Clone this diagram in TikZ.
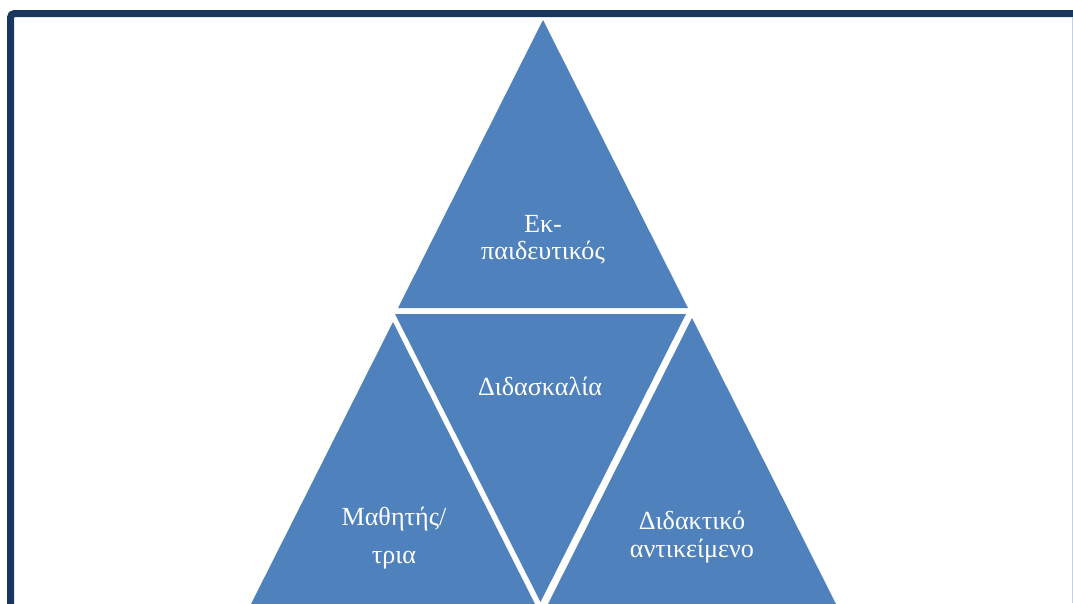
\documentclass[tikz,border=0pt]{standalone}
\usepackage{fontspec}
\setmainfont{Liberation Serif}
\definecolor{pyrblue}{HTML}{4F81BD}
\definecolor{framenavy}{HTML}{17375E}
\definecolor{edgegray}{HTML}{C5CFDD}

\begin{document}
\begin{tikzpicture}[x=0.75pt, y=-0.75pt, every node/.style={font=\fontsize{19.6}{20.5}\selectfont, text=white, align=center}]
\tikzset{tri/.style={fill=pyrblue}}
\useasboundingbox (0,0) rectangle (1073,603);
\clip (0,0) rectangle (1073,603);
% --- frame ---
\draw[framenavy, line width=5.25pt, rounded corners=3pt] (10.5,620) -- (10.5,13.5) -- (1090,13.5);
\draw[edgegray, line width=0.75pt] (1072,17) -- (1072,603);
% --- top triangle ---
\coordinate (tA) at (543,20);
\fill[tri] (tA) -- (688,308) -- (398,308) -- cycle;
\node (teacher) at (543,240) {Εκ-\\παιδευτικός};
% --- middle triangle (inverted) ---
\coordinate (mA) at (540.5,602);
\fill[tri] (395,314) -- (686,314) -- (mA) -- cycle;
\node[anchor=base] (teaching) at (540,395) {Διδασκαλία};
% --- left triangle ---
\coordinate (lA) at (393,322);
\fill[tri] (lA) -- (538,610) -- (248,610) -- cycle;
\node (student) at (394,538) {Μαθητής/\\[8pt]τρια};
% --- right triangle ---
\coordinate (rA) at (692,318);
\fill[tri] (rA) -- (837,606) -- (547,606) -- cycle;
\node (subject) at (692,537) {Διδακτικό\\αντικείμενο};
\end{tikzpicture}
\end{document}
